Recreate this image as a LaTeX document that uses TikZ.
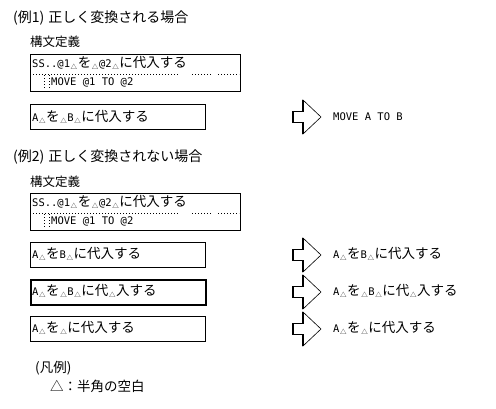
\documentclass[tikz,border=0pt]{standalone}
\usepackage{fontspec}
\setmainfont{Noto Sans CJK JP}
\newfontfamily\hwfont{DejaVu Sans Mono}
\newcommand{\tri}{\hspace{0.6pt}\raisebox{-1.8pt}{\fontsize{6.5}{6.5}\selectfont △}\hspace{0.6pt}}
\newcommand{\hwt}[1]{{\hwfont\fontsize{10.5}{13}\selectfont #1}}
\tikzset{
  txt/.style={anchor=west, inner sep=0pt, font=\fontsize{13.5}{15}\selectfont},
  sub/.style={anchor=west, inner sep=0pt, font=\fontsize{12.5}{15}\selectfont},
  ttl/.style={anchor=west, inner sep=0pt, font=\fontsize{14}{16}\selectfont},
  box/.style={draw, line width=0.8pt, anchor=north west, inner sep=0pt, minimum width=175pt, minimum height=25pt},
  defbox/.style={box, minimum width=210pt, minimum height=37pt},
  dotline/.style={line width=0.7pt, dash pattern=on 0.7pt off 2.3pt},
  bigarrow/.pic={
    \draw[line width=0.6pt, line join=miter] (-14,-5.5) -- (-4,-5.5) -- (-4,-17) -- (14,0) -- (-4,17) -- (-4,5.5) -- (-14,5.5) -- cycle;
    \draw[line width=1.4pt] (-4,-17) -- (-4,-5.5) -- (-14,-5.5) -- (-14,5.5) -- (-4,5.5) -- (-4,17);
  }
}
\begin{document}
\begin{tikzpicture}[x=1pt,y=-1pt]
\useasboundingbox (0,0) rectangle (496,408);

% Example 1
\node[ttl] (t1) at (13,18) {(例1)\hspace{4pt}正しく変換される場合};
\node[sub] (k1) at (30,42) {構文定義};
\node[defbox] (d1) at (30,54) {};
\node[txt] (d1a) at (32,63) {\hwt{SS..@1}\tri を\tri\hwt{@2}\tri に代入する};
\node[txt] (d1b) at (51,82) {\hwt{MOVE @1 TO @2}};
\draw[dotline] (33,74) -- (178,74);
\draw[dotline] (192,74) -- (211,74);
\draw[dotline] (218,74) -- (239,74);
\draw[dotline] (44,75) -- (44,88);
\draw[dotline] (49,75) -- (49,88);

\node[box] (b1) at (30,104) {};
\node[txt] (b1t) at (32,117) {\hwt{A}\tri を\tri\hwt{B}\tri に代入する};
\pic at (307,117) {bigarrow};
\node[txt] (r1) at (333,117) {\hwt{MOVE A TO B}};

% Example 2
\node[ttl] (t2) at (13,157) {(例2)\hspace{4pt}正しく変換されない場合};
\node[sub] (k2) at (30,182) {構文定義};
\node[defbox] (d2) at (30,193) {};
\node[txt] (d2a) at (32,202) {\hwt{SS..@1}\tri を\tri\hwt{@2}\tri に代入する};
\node[txt] (d2b) at (51,221) {\hwt{MOVE @1 TO @2}};
\draw[dotline] (33,213) -- (178,213);
\draw[dotline] (192,213) -- (211,213);
\draw[dotline] (218,213) -- (239,213);
\draw[dotline] (44,214) -- (44,227);
\draw[dotline] (49,214) -- (49,227);

\node[box] (b2) at (30,242) {};
\node[txt] (b2t) at (32,254) {\hwt{A}\tri を\hwt{B}\tri に代入する};
\pic at (307,255) {bigarrow};
\node[txt] (r2) at (333,254) {\hwt{A}\tri を\hwt{B}\tri に代入する};

\node[box, line width=1.6pt] (b3) at (30,279) {};
\node[txt] (b3t) at (32,291) {\hwt{A}\tri を\tri\hwt{B}\tri に代\tri 入する};
\pic at (307,292) {bigarrow};
\node[txt] (r3) at (333,291) {\hwt{A}\tri を\tri\hwt{B}\tri に代\tri 入する};

\node[box] (b4) at (30,316) {};
\node[txt] (b4t) at (32,328) {\hwt{A}\tri を\tri に代入する};
\pic at (307,329) {bigarrow};
\node[txt] (r4) at (333,328) {\hwt{A}\tri を\tri に代入する};

% Legend
\node[txt] (l1) at (35,368) {(凡例)};
\node[txt] (l2) at (50,386) {△：半角の空白};
\end{tikzpicture}
\end{document}
